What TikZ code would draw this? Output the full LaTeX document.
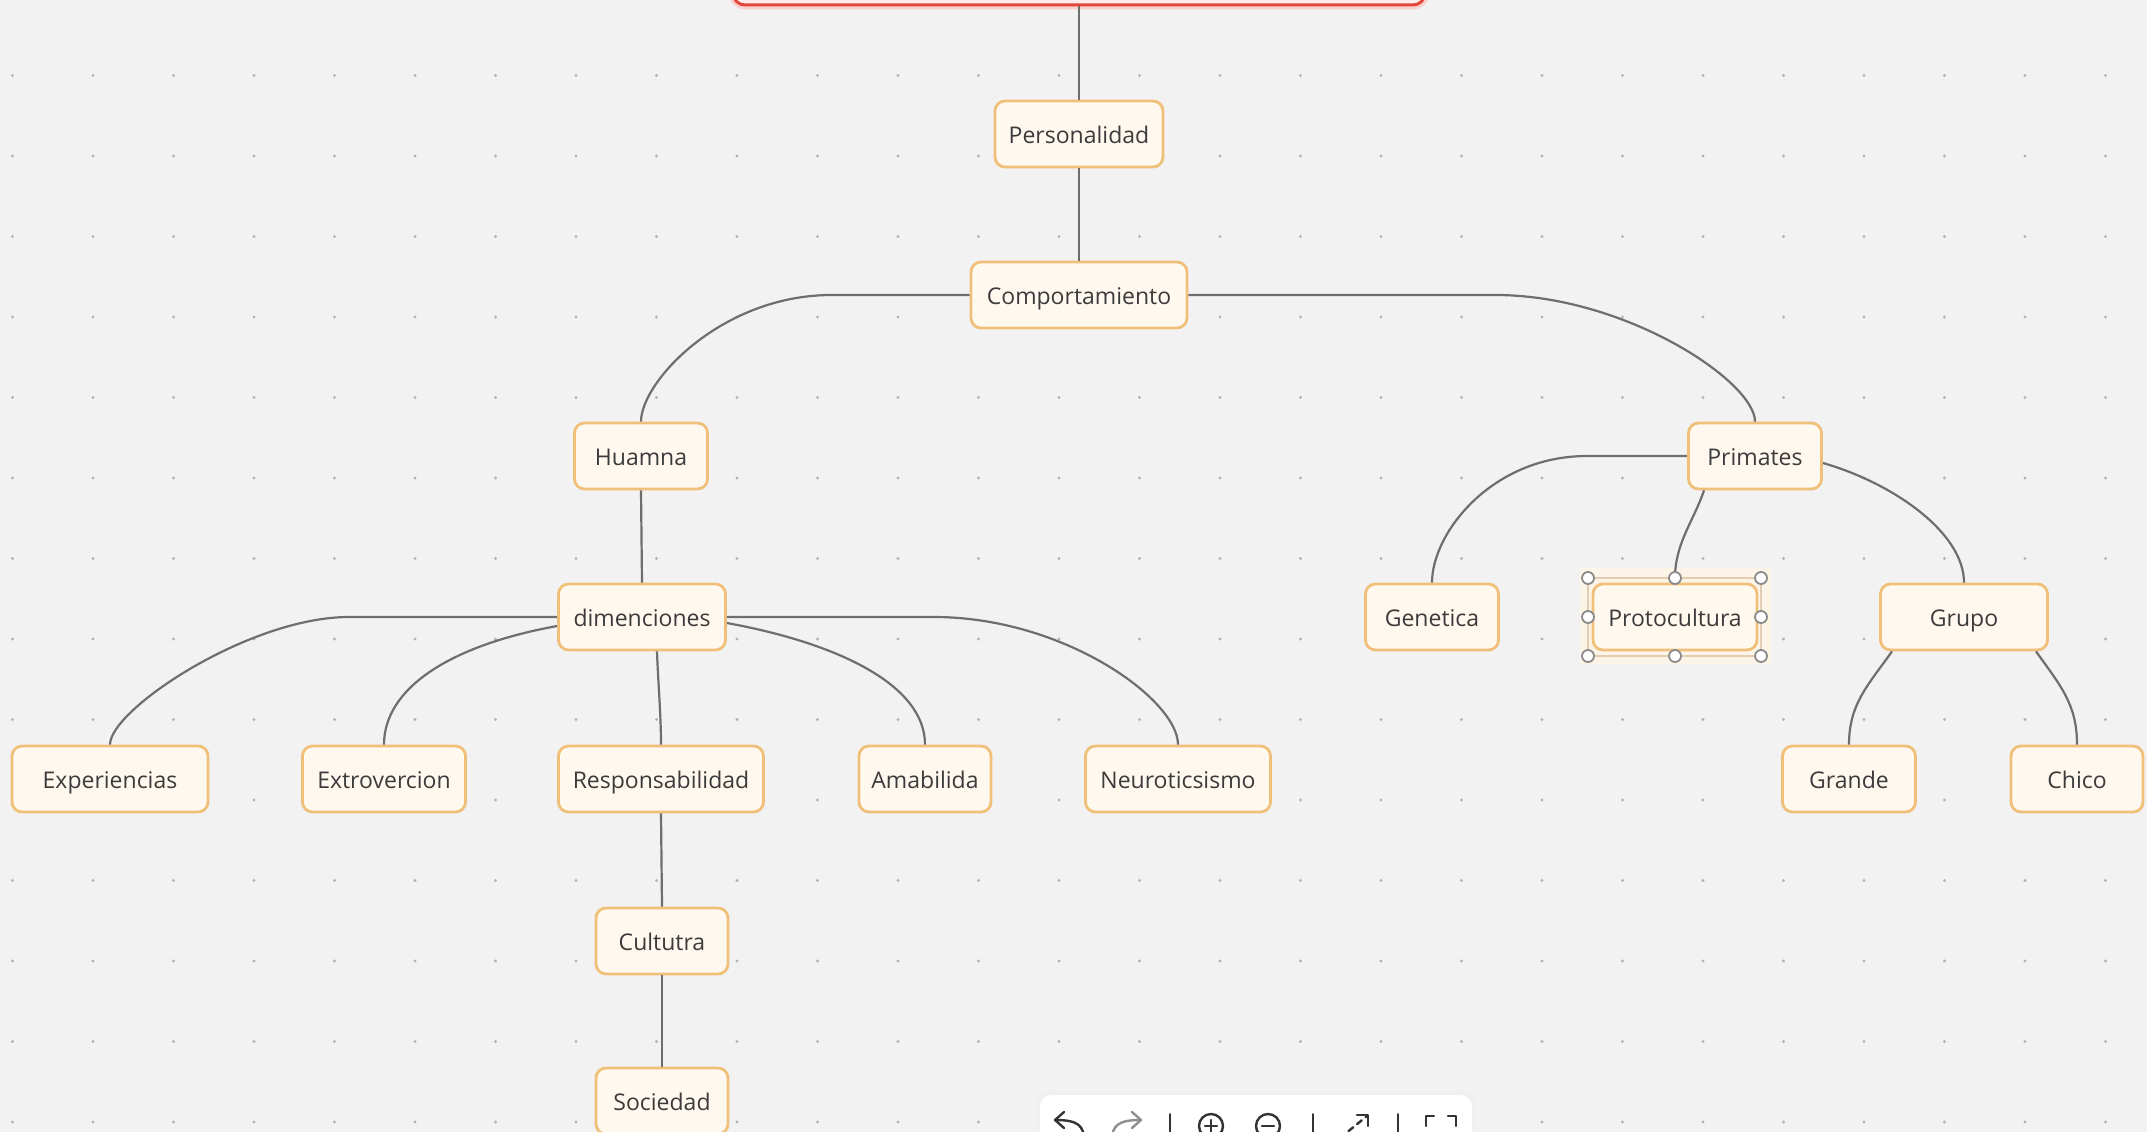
\documentclass[tikz,border=0pt]{standalone}
\usepackage{fontspec}
\setmainfont{Open Sans}
\usetikzlibrary{calc}
\definecolor{bgc}{HTML}{F2F2F2}
\definecolor{dotc}{HTML}{B3B3B3}
\definecolor{nodefill}{HTML}{FFF8EE}
\definecolor{nodeborder}{HTML}{F0C07A}
\definecolor{linkc}{HTML}{6E6E6E}
\definecolor{txt}{HTML}{3B3B3B}
\definecolor{redc}{HTML}{E2473C}
\definecolor{redfill}{HTML}{FDEDEC}
\definecolor{selc}{HTML}{E3CDB2}
\definecolor{handlec}{HTML}{8A8A8A}
\definecolor{iconc}{HTML}{333333}
\tikzset{
  nd/.style={draw=nodeborder, line width=2.8pt, fill=nodefill, rounded corners=10pt,
    minimum height=66pt, inner sep=0pt, text height=20pt, text depth=1pt,
    text=txt, font=\fontsize{23}{28}\selectfont},
  link/.style={draw=linkc, line width=2.2pt},
  handle/.style={draw=handlec, fill=white, line width=1.8pt},
  icon/.style={draw=iconc, line width=2.4pt, line cap=round, line join=round},
}
\begin{document}
\begin{tikzpicture}[x=1pt,y=-1pt]
\useasboundingbox (0,0) rectangle (2147,1132);
\clip (0,0) rectangle (2147,1132);
\fill[bgc] (0,0) rectangle (2147,1132);
% dot grid
\foreach \i in {0,...,26}{
  \foreach \j in {0,...,13}{
    \fill[dotc] ({12.5+80.5*\i},{75.5+80.5*\j}) circle (1.7);
  }
}
% top (red) node, mostly off screen
\node[draw=redc, fill=redfill, line width=3pt, rounded corners=12pt,
  minimum width=692pt, minimum height=66pt,
  preaction={draw=redc!25, line width=9pt}] (top) at (1079,-28) {};
% selection halo behind Protocultura
\fill[nodeborder!18] (1580,568) rectangle (1771,664);
% nodes
\node[nd, minimum width=168pt] (pers) at (1079,134) {Personalidad};
\node[nd, minimum width=216pt] (comp) at (1079,295) {Comportamiento};
\node[nd, minimum width=133pt] (hua) at (641,456) {Huamna};
\node[nd, minimum width=133pt] (pri) at (1755,456) {Primates};
\node[nd, minimum width=167pt] (dim) at (642,617) {dimenciones};
\node[nd, minimum width=133pt] (gen) at (1432,617) {Genetica};
\node[nd, minimum width=164pt] (pro) at (1675,617) {Protocultura};
\node[nd, minimum width=167pt] (gru) at (1964,617) {Grupo};
\node[nd, minimum width=196pt] (exp) at (110,779) {Experiencias};
\node[nd, minimum width=163pt] (ext) at (384,779) {Extrovercion};
\node[nd, minimum width=205pt] (res) at (661,779) {Responsabilidad};
\node[nd, minimum width=132pt] (ama) at (925,779) {Amabilida};
\node[nd, minimum width=185pt] (neu) at (1178,779) {Neuroticsismo};
\node[nd, minimum width=133pt] (gra) at (1849,779) {Grande};
\node[nd, minimum width=132pt] (chi) at (2077,779) {Chico};
\node[nd, minimum width=132pt] (cul) at (662,941) {Cultutra};
\node[nd, minimum width=132pt] (soc) at (662,1101) {Sociedad};
% selection frame and handles
\coordinate (hN) at (1675,578);
\draw[selc, line width=1.2pt] (1588,578) rectangle (1761,656);
% connectors
\draw[link] (top.south) -- (pers.north);
\draw[link] (pers.south) -- (comp.north);
\draw[link] (comp.west) -- ++(-138,0) .. controls +(-110,0) and +(0,-40) .. (hua.north);
\draw[link] (comp.east) -- ++(307,0) .. controls +(130,0) and +(0,-40) .. (pri.north);
\draw[link] (hua.south) -- (dim.north);
\draw[link] (dim.west) -- ++(-208,0) .. controls +(-100,0) and +(0,-35) .. (exp.north);
\draw[link] ($(dim.west)+(0,9)$) .. controls +(-110,20) and +(0,-55) .. (ext.north);
\draw[link] ($(dim.south)+(15,0)$) .. controls +(1,30) and +(0,-30) .. (res.north);
\draw[link] ($(dim.east)+(0,6)$) .. controls +(110,20) and +(0,-60) .. (ama.north);
\draw[link] (dim.east) -- ++(207,0) .. controls +(130,0) and +(0,-45) .. (neu.north);
\draw[link] (res.south) -- (cul.north);
\draw[link] (cul.south) -- (soc.north);
\draw[link] (pri.west) -- ++(-100,0) .. controls +(-95,0) and +(0,-50) .. (gen.north);
\draw[link] ($(pri.south)+(-51,0)$) .. controls +(-10,30) and +(0,-35) .. (hN);
\draw[link] ($(pri.east)+(0,7)$) .. controls +(70,20) and +(0,-50) .. (gru.north);
\draw[link] ($(gru.south)+(-72,0)$) .. controls +(-25,35) and +(0,-40) .. (gra.north);
\draw[link] ($(gru.south)+(72,0)$) .. controls +(25,35) and +(0,-40) .. (chi.north);
% handles
\foreach \hx/\hy in {1588/578,1675/578,1761/578,1588/617,1761/617,1588/656,1675/656,1761/656}{
  \draw[handle] (\hx,\hy) circle (6);
}
% toolbar
\fill[black!6, rounded corners=12pt] (1037,1091) rectangle (1475,1170);
\node[fill=white, rounded corners=12pt, minimum width=432pt, minimum height=80pt, inner sep=0pt] (bar) at (1256,1135) {};
% undo
\draw[icon] (1084,1140) .. controls (1084,1126) and (1078,1120) .. (1056,1120);
\draw[icon] (1064,1112) -- (1055,1120) -- (1064,1128);
% redo
\draw[icon, draw=iconc!55] (1112,1140) .. controls (1112,1126) and (1118,1120) .. (1140,1120);
\draw[icon, draw=iconc!55] (1132,1112) -- (1141,1120) -- (1132,1128);
% separators
\draw[icon, line width=2pt] (1170,1114) -- (1170,1140);
\draw[icon, line width=2pt] (1313,1114) -- (1313,1140);
\draw[icon, line width=2pt] (1398,1114) -- (1398,1140);
% zoom in / out
\draw[icon] (1211,1126) circle (12);
\draw[icon] (1205,1126) -- (1217,1126) (1211,1120) -- (1211,1132);
\draw[icon] (1268,1126) circle (12);
\draw[icon] (1262,1126) -- (1274,1126);
% fit arrow
\draw[icon, dash pattern=on 6pt off 5pt] (1340,1138) -- (1367,1116);
\draw[icon] (1357,1115) -- (1368,1115) -- (1368,1126);
% fullscreen corners
\draw[icon] (1426,1126) -- (1426,1116) -- (1434,1116);
\draw[icon] (1448,1116) -- (1456,1116) -- (1456,1126);
\end{tikzpicture}
\end{document}
